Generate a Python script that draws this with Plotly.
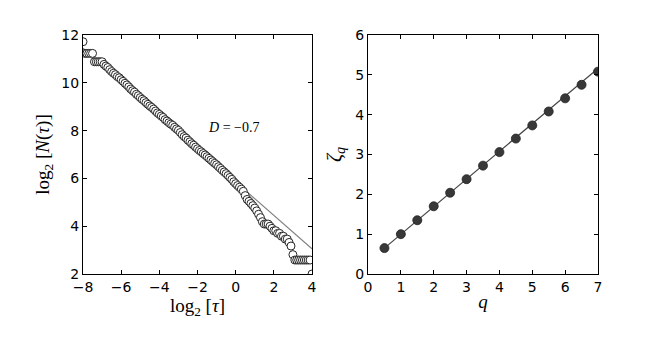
import numpy as np
import plotly.graph_objects as go

# ---- data: left panel ----
log2_tau = [round(-8.0 + 0.1 * i, 1) for i in range(121)]
log2_N = [
    11.72,
    11.23, 11.23, 11.23, 11.23, 11.23,
    10.88, 10.88, 10.88, 10.88, 10.88,
    10.77, 10.70, 10.64, 10.55, 10.47, 10.40, 10.34, 10.26, 10.21, 10.13,
    10.06, 9.98, 9.91, 9.83, 9.74, 9.67, 9.61, 9.52, 9.46, 9.38,
    9.31, 9.25, 9.17, 9.10, 9.03, 8.97, 8.90, 8.82, 8.74, 8.68,
    8.61, 8.55, 8.46, 8.40, 8.33, 8.27, 8.22, 8.14, 8.07, 8.01,
    7.92, 7.83, 7.75, 7.69, 7.60, 7.53, 7.45, 7.39, 7.31, 7.24,
    7.17, 7.11, 7.04, 6.98, 6.91, 6.84, 6.77, 6.70, 6.63, 6.57,
    6.49, 6.42, 6.34, 6.27, 6.20, 6.12, 6.04, 5.96, 5.86, 5.78,
    5.70, 5.63, 5.55, 5.46, 5.28, 5.12, 5.04, 4.95, 4.86, 4.76,
    4.64, 4.50, 4.36, 4.19, 4.09, 4.09, 4.09, 4.00, 3.91, 3.81,
    3.81, 3.70, 3.70, 3.58, 3.58, 3.46, 3.46, 3.32, 3.17, 2.81,
    2.585, 2.585, 2.585, 2.585, 2.585, 2.585, 2.585, 2.585, 2.585,
    2.0,
]
fit_D = -0.7
fit_intercept = 5.85

# ---- data: right panel ----
q_vals = [0.5, 1.0, 1.5, 2.0, 2.5, 3.0, 3.5, 4.0, 4.5, 5.0, 5.5, 6.0, 6.5, 7.0]
zeta_q = [0.65, 1.00, 1.35, 1.70, 2.04, 2.38, 2.72, 3.06, 3.40, 3.73, 4.08, 4.41, 4.75, 5.08]
zeta_slope = 0.694
zeta_intercept = 0.303

W, H = 664, 356
OFF = 8  # page body margin offset
fig = go.Figure()

xl = np.array([-8.0, 4.0])
fig.add_trace(go.Scatter(x=xl, y=fit_intercept + fit_D * xl, mode="lines",
                         line=dict(color="#808080", width=1.2),
                         xaxis="x", yaxis="y", showlegend=False, hoverinfo="skip"))
fig.add_trace(go.Scatter(x=log2_tau, y=log2_N, mode="markers",
                         marker=dict(size=8, color="white", symbol="circle",
                                     line=dict(color="#262626", width=1)),
                         xaxis="x", yaxis="y", showlegend=False, cliponaxis=True))

qx = np.array([min(q_vals), max(q_vals)])
fig.add_trace(go.Scatter(x=qx, y=zeta_intercept + zeta_slope * qx, mode="lines",
                         line=dict(color="#444444", width=1.2),
                         xaxis="x2", yaxis="y2", showlegend=False))
fig.add_trace(go.Scatter(x=q_vals, y=zeta_q, mode="markers",
                         marker=dict(size=9, color="#383838",
                                     line=dict(color="#222222", width=0.8)),
                         xaxis="x2", yaxis="y2", showlegend=False, cliponaxis=True))

tickfont = dict(family="DejaVu Sans", size=14, color="black")
serif = "Liberation Serif"
ax_common = dict(showgrid=False, zeroline=False, ticks="inside", ticklen=4,
                 tickcolor="black", showline=True, linecolor="black", linewidth=1,
                 mirror="ticks", tickfont=tickfont, automargin=False)

ytop = 1 - (35 - OFF) / H
ybot = 1 - (274 - OFF) / H

fig.update_layout(
    width=W, height=H,
    margin=dict(l=0, r=0, t=0, b=0),
    paper_bgcolor="white", plot_bgcolor="white",
    xaxis=dict(domain=[(83 - OFF) / W, (312 - OFF) / W], range=[-8, 4], tickvals=[-8, -6, -4, -2, 0, 2, 4],
               anchor="y",
               title=dict(text="log<sub>2</sub> [<i>τ</i>]", font=dict(family=serif, size=19, color="black"),
                          standoff=0),
               **ax_common),
    yaxis=dict(domain=[ybot, ytop], range=[2, 12], tickvals=[2, 4, 6, 8, 10, 12],
               anchor="x",
               title=dict(text="log<sub>2</sub> [<i>N</i>(<i>τ</i>)]", font=dict(family=serif, size=19, color="black"),
                          standoff=6),
               **ax_common),
    xaxis2=dict(domain=[(368 - OFF) / W, (598 - OFF) / W], range=[0, 7], tickvals=[0, 1, 2, 3, 4, 5, 6, 7],
                anchor="y2",
                title=dict(text="<i>q</i>", font=dict(family=serif, size=19, color="black"),
                           standoff=0),
                **ax_common),
    yaxis2=dict(domain=[ybot, ytop], range=[0, 6], tickvals=[0, 1, 2, 3, 4, 5, 6],
                anchor="x2",
                title=dict(text="<i>ζ<sub>q</sub></i>", font=dict(family=serif, size=20, color="black"),
                           standoff=8),
                **ax_common),
    annotations=[dict(x=-1.55, y=8.15, xref="x", yref="y", xanchor="left", yanchor="middle",
                      text="<i>D</i> = −0.7", showarrow=False,
                      font=dict(family=serif, size=14, color="black"))],
)

fig.write_html("out.html")
